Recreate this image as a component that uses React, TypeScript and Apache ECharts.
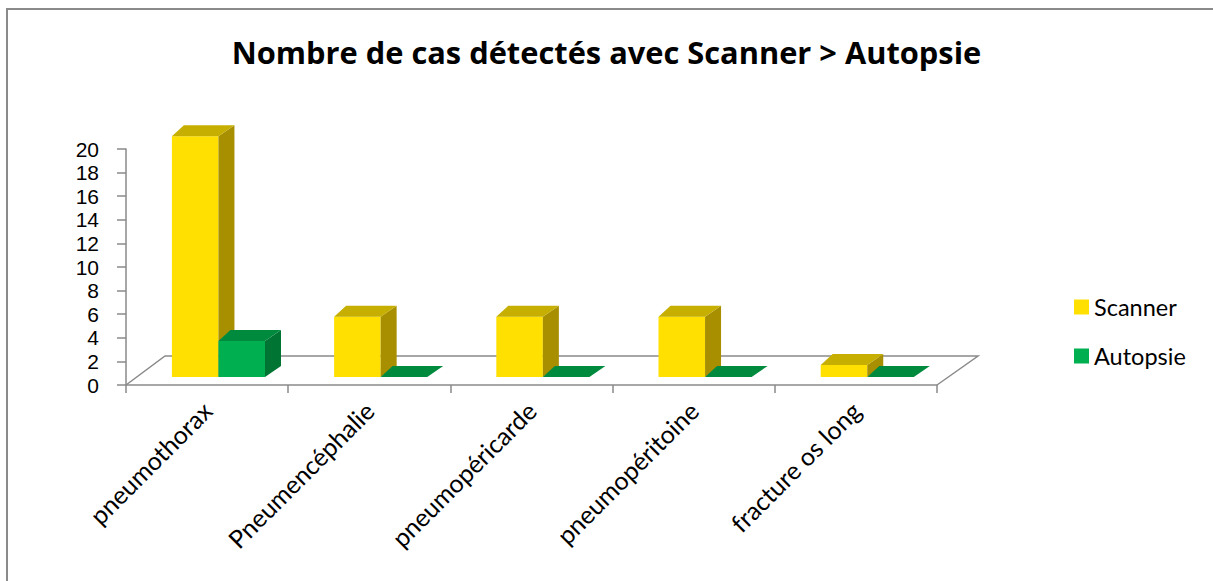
import React, { useEffect, useRef } from "react";
import * as echarts from "echarts";

const titleText = "Nombre de cas détectés avec Scanner > Autopsie";
const categories = [
  "pneumothorax",
  "Pneumencéphalie",
  "pneumopéricarde",
  "pneumopéritoine",
  "fracture os long",
];
const seriesNames = ["Scanner", "Autopsie"];
const scannerValues = [20, 5, 5, 5, 1];
const autopsieValues = [3, 0, 0, 0, 0];
const yMin = 0;
const yMax = 20;
const yInterval = 2;

const FONT = "Lato";
const TITLE_FONT = "Open Sans";
const AXIS_NUM_FONT = "Liberation Sans";

const palettes = [
  { front: "#FFE000", top: "#C6AF00", side: "#A78F00" },
  { front: "#00B050", top: "#008A3E", side: "#007433" },
];

function makeBarRenderer(slot: number) {
  return (params: any, api: any) => {
    const cat = api.value(0);
    const val = api.value(1);
    const base = api.coord([cat, 0]);
    const topPt = api.coord([cat, val]);
    const catW = api.size([1, 0])[0];
    const bw = catW * 0.287;
    const pairCenter = base[0] + catW * 0.07;
    const x0 = slot === 0 ? pairCenter - bw : pairCenter;
    const x1 = x0 + bw;
    const yb = base[1] - 8;
    const h = (base[1] - topPt[1]) * 1.02;
    const yt = yb - h;
    const dxL = 12;
    const dxR = 16;
    const dy = 11;
    const pal = palettes[slot];
    const children: any[] = [];
    if (h > 0.5) {
      children.push({
        type: "rect",
        shape: { x: x0, y: yt, width: bw, height: h },
        style: { fill: pal.front },
      });
      children.push({
        type: "polygon",
        shape: {
          points: [
            [x1, yt],
            [x1 + dxR, yt - dy],
            [x1 + dxR, yb - dy],
            [x1, yb],
          ],
        },
        style: { fill: pal.side },
      });
    }
    children.push({
      type: "polygon",
      shape: {
        points: [
          [x0, yt],
          [x0 + dxL, yt - dy],
          [x1 + dxR, yt - dy],
          [x1, yt],
        ],
      },
      style: { fill: pal.top },
    });
    return { type: "group", children };
  };
}

function floorRenderer(params: any, api: any) {
  const cs = params.coordSys;
  const yb = cs.y + cs.height;
  const xl = cs.x;
  const xr = cs.x + cs.width;
  return {
    type: "polyline",
    shape: {
      points: [
        [xl, yb],
        [xl + 39, yb - 29],
        [xr + 41, yb - 29],
        [xr, yb],
      ],
    },
    style: { stroke: "#8a8a8a", lineWidth: 1.5, fill: null },
  };
}

export default function App() {
  const ref = useRef<HTMLDivElement>(null);
  useEffect(() => {
    if (!ref.current) return;
    const chart = echarts.init(ref.current, null, { renderer: "svg" });
    const option: any = {
      animation: false,
      backgroundColor: "#ffffff",
      title: {
        text: titleText,
        left: "center",
        top: 31,
        textStyle: { fontFamily: TITLE_FONT, fontWeight: "bold", fontSize: 30.8, color: "#000" },
      },
      legend: {
        data: seriesNames,
        orient: "vertical",
        left: 1069,
        top: 290,
        itemWidth: 15,
        itemHeight: 15,
        itemGap: 25,
        icon: "rect",
        textStyle: { fontFamily: FONT, fontSize: 23.5, color: "#000" },
      },
      grid: { left: 126, right: 276, top: 149, bottom: 196, containLabel: false },
      xAxis: {
        type: "category",
        data: categories,
        axisLine: { show: true, lineStyle: { color: "#8a8a8a", width: 1.5 } },
        axisTick: { show: true, length: 8, lineStyle: { color: "#8a8a8a", width: 1.5 } },
        axisLabel: {
          interval: 0,
          rotate: 45,
          margin: 21,
          fontFamily: FONT,
          fontSize: 25,
          color: "#000",
        },
        splitLine: { show: false },
      },
      yAxis: {
        type: "value",
        min: yMin,
        max: yMax,
        interval: yInterval,
        axisLine: { show: true, lineStyle: { color: "#8a8a8a", width: 1.5 } },
        axisTick: { show: true, length: 9, lineStyle: { color: "#8a8a8a", width: 1.5 } },
        axisLabel: {
          margin: 27,
          fontFamily: AXIS_NUM_FONT,
          fontSize: 21,
          lineHeight: 20,
          color: "#000",
        },
        splitLine: { show: false },
      },
      graphic: [
        {
          type: "polyline",
          shape: { points: [[7, 600], [7, 9], [1213, 9]] },
          style: { stroke: "#8a8a8a", lineWidth: 2, fill: null },
          silent: true,
        },
      ],
      series: [
        {
          type: "custom",
          name: "floor",
          renderItem: floorRenderer,
          data: [[0, 0]],
          silent: true,
          z: 1,
        },
        {
          type: "custom",
          name: seriesNames[0],
          renderItem: makeBarRenderer(0),
          itemStyle: { color: palettes[0].front },
          data: scannerValues.map((v, i) => [i, v]),
          z: 2,
        },
        {
          type: "custom",
          name: seriesNames[1],
          renderItem: makeBarRenderer(1),
          itemStyle: { color: palettes[1].front },
          data: autopsieValues.map((v, i) => [i, v]),
          z: 3,
        },
      ],
    };
    chart.setOption(option);
    return () => chart.dispose();
  }, []);
  return (
    <div
      ref={ref}
      style={{ position: "absolute", left: 0, top: 0, width: 1213, height: 581 }}
    />
  );
}
